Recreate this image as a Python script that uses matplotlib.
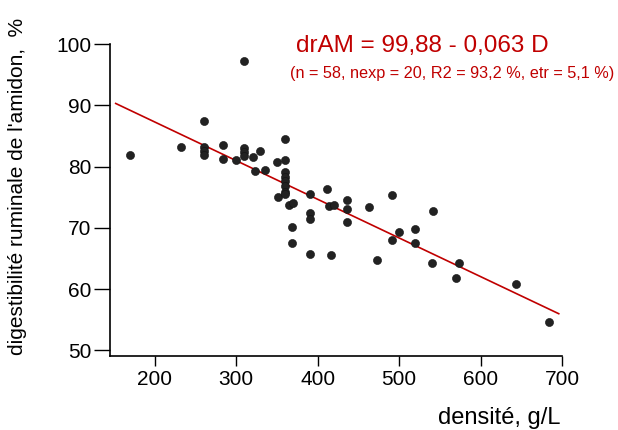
import matplotlib
matplotlib.use("Agg")
import matplotlib.pyplot as plt

plt.rcParams['font.family'] = ['Liberation Sans', 'DejaVu Sans']

# densite (g/L) and ruminal starch digestibility (%)
densite = [170, 232, 260, 260, 260, 260, 284, 284, 300, 310,
           310, 310, 310, 320, 329, 323, 335, 350, 351, 360,
           360, 360, 360, 360, 360, 360, 360, 365, 370, 369,
           369, 391, 391, 391, 391, 412, 414, 420, 416, 436,
           436, 436, 463, 473, 491, 491, 500, 520, 520, 541,
           540, 573, 570, 644, 684]
dram = [81.9, 83.2, 87.5, 83.2, 82.5, 81.9, 83.6, 81.3, 81.0, 97.3,
        83.1, 82.4, 81.8, 81.6, 82.5, 79.3, 79.5, 80.7, 75.0, 84.5,
        81.1, 79.1, 78.3, 77.6, 76.8, 75.9, 75.6, 73.8, 74.1, 70.1,
        67.5, 75.6, 72.5, 71.4, 65.7, 76.3, 73.6, 73.7, 65.6, 74.5,
        73.1, 70.9, 73.4, 64.7, 75.3, 68.1, 69.4, 69.8, 67.5, 72.7,
        64.2, 64.2, 61.9, 60.9, 54.7]

# fitted line end points
fit_x = [152, 696]
fit_y = [90.3, 56.0]

eq_text = "drAM = 99,88 - 0,063 D"
stat_text = "(n = 58, nexp = 20, R2 = 93,2 %, etr = 5,1 %)"

red = '#c00000'

fig = plt.figure(figsize=(6.18, 4.30), dpi=100)
ax = fig.add_axes([110/618, 74/430, 452/618, 312/430])

ax.scatter(densite, dram, s=34, c='#222222', edgecolors='#111111', linewidths=0.4, zorder=3)
ax.plot(fit_x, fit_y, color=red, lw=1.2, zorder=2)

ax.set_xlim(145, 700)
ax.set_ylim(49.1, 100)
ax.set_xticks([200, 300, 400, 500, 600, 700])
ax.set_yticks([50, 60, 70, 80, 90, 100])

ax.spines['top'].set_visible(False)
ax.spines['right'].set_visible(False)
ax.spines['left'].set_linewidth(1.2)
ax.spines['bottom'].set_linewidth(1.2)
ax.tick_params(axis='y', direction='out', length=11.5, width=1.0, labelsize=15, pad=2)
ax.tick_params(axis='x', direction='out', length=7, width=1.0, labelsize=15, pad=3)

fig.text(296/618, 1 - 52.3/430, eq_text, color=red, fontsize=17.5, ha='left', va='baseline')
fig.text(290/618, 1 - 78.3/430, stat_text, color=red, fontsize=11.7, ha='left', va='baseline')

fig.text(560/618, 6/430, "densité, g/L", fontsize=17, ha='right', va='baseline')
fig.text(18/618, 1 - 186.5/430, "digestibilité ruminale de l'amidon,  %", fontsize=15,
         rotation=90, ha='center', va='center')

fig.savefig("out.png", dpi=100)
